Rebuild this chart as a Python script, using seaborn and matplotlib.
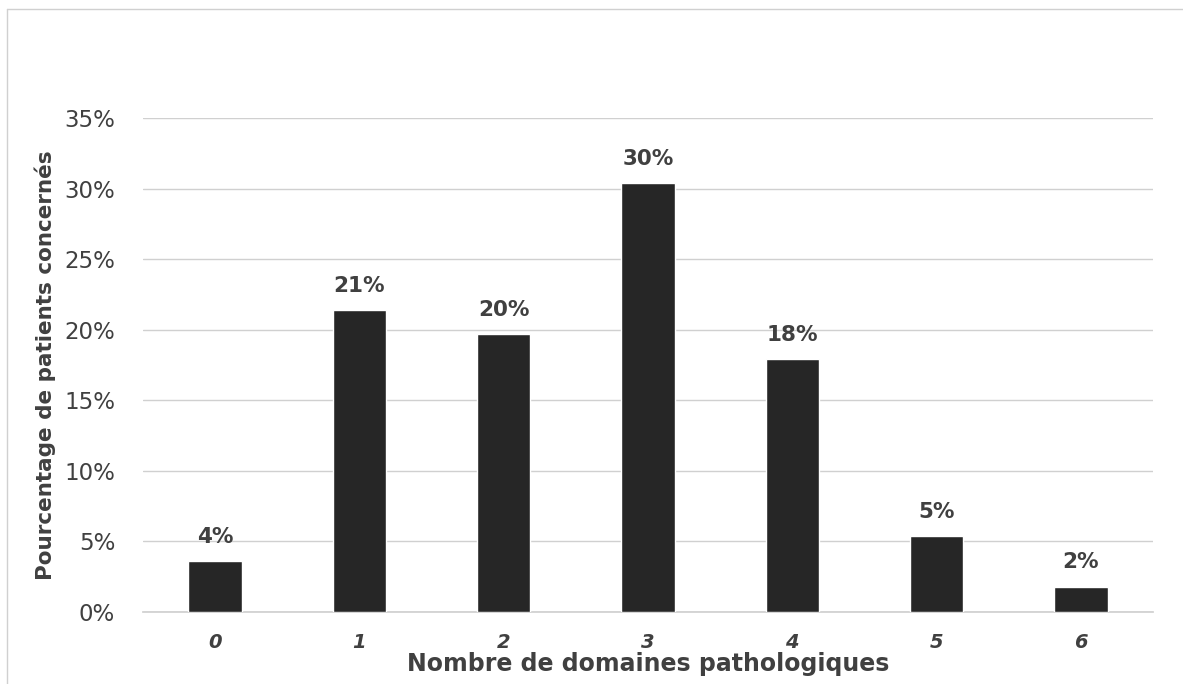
import matplotlib
matplotlib.use("Agg")
import matplotlib.pyplot as plt
from matplotlib.lines import Line2D
import pandas as pd
import seaborn as sns

# Values (percent of patients)
categories = ["0", "1", "2", "3", "4", "5", "6"]
percentages = [3.6, 21.4, 19.7, 30.4, 17.9, 5.4, 1.8]
bar_labels = ["4%", "21%", "20%", "30%", "18%", "5%", "2%"]
y_ticks = [0, 5, 10, 15, 20, 25, 30, 35]

sns.set_theme(style="white")
plt.rcParams["font.family"] = ["DejaVu Sans"]

text_color = "#404040"
bar_color = "#262626"
grid_color = "#d0d0d0"

df = pd.DataFrame({"domaines": categories, "pct": percentages})

fig = plt.figure(figsize=(11.83, 6.84), dpi=100)
ax = fig.add_axes([0.1209, 0.1053, 0.8537, 0.7222])

sns.barplot(data=df, x="domaines", y="pct", color=bar_color, width=0.37,
            saturation=1, ax=ax, zorder=3)

# Labels above bars
for patch, lab in zip(ax.patches, bar_labels):
    ax.text(patch.get_x() + patch.get_width() / 2, patch.get_height() + 1.0, lab,
            ha="center", va="bottom", fontsize=15.5, fontweight="bold", color=text_color)

ax.set_ylim(0, 35)
ax.set_yticks(y_ticks)
ax.set_yticklabels([f"{t}%" for t in y_ticks], fontsize=16.5, color=text_color)
ax.yaxis.grid(True, color=grid_color, linewidth=1, zorder=0)
ax.set_axisbelow(True)

for lbl in ax.get_xticklabels():
    lbl.set_fontsize(14)
    lbl.set_fontweight("bold")
    lbl.set_fontstyle("italic")
    lbl.set_color(text_color)
ax.tick_params(axis="x", pad=15, length=0)
ax.tick_params(axis="y", pad=20, length=0)

ax.set_xlabel("Nombre de domaines pathologiques", fontsize=17, fontweight="bold",
              color=text_color, labelpad=0)
ax.set_ylabel("Pourcentage de patients concernés", fontsize=15.5, fontweight="bold",
              color=text_color, labelpad=6)

for side in ["top", "right", "left"]:
    ax.spines[side].set_visible(False)
ax.spines["bottom"].set_color(grid_color)

# Light frame (top and left edges visible in the reference)
fx, fy = 7 / 1183, 1 - 9 / 684
fig.add_artist(Line2D([fx, 1.0], [fy, fy], transform=fig.transFigure,
                      color="#d0d0d0", linewidth=1))
fig.add_artist(Line2D([fx, fx], [0.0, fy], transform=fig.transFigure,
                      color="#d0d0d0", linewidth=1))

fig.savefig("out.png", dpi=100)
